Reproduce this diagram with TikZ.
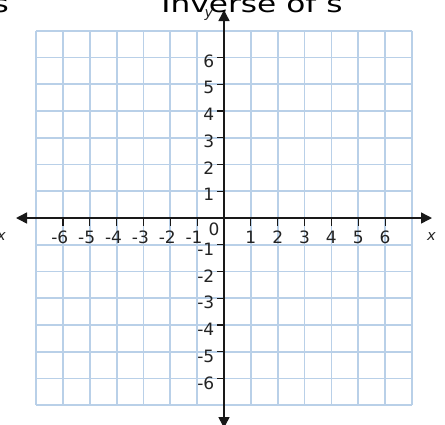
\documentclass[tikz,border=0pt]{standalone}
\usepackage{fontspec}
\setmainfont{DejaVu Sans}
\newfontfamily\titlefont[FakeStretch=1.3]{DejaVu Sans}
\usetikzlibrary{arrows.meta}
\definecolor{gridblue}{RGB}{185,208,232}
\definecolor{axisdark}{RGB}{25,25,25}
\definecolor{labeldark}{RGB}{35,35,35}
\tikzset{
  gridline/.style={draw=gridblue, line width=1.8pt},
  axisline/.style={draw=axisdark, line width=1.5pt, {Triangle[length=11pt,width=11pt]}-{Triangle[length=11pt,width=11pt]}},
  tickmark/.style={draw=axisdark, line width=1.2pt},
  ticklabel/.style={inner sep=0pt, text=labeldark, font=\fontsize{17}{17}\selectfont},
  axislabel/.style={inner sep=0pt, text=labeldark, font=\fontsize{14.5}{14.5}\selectfont\itshape},
  titletext/.style={inner sep=0pt, text=black, font=\titlefont\fontsize{24}{24}\selectfont}
}
\begin{document}
\begin{tikzpicture}[x=1pt,y=-1pt]
\useasboundingbox (0,0) rectangle (445,424);
\fill[white] (0,0) rectangle (445,424);
\def\ox{224}\def\oy{218}\def\dx{26.85}\def\dy{26.75}
% grid
\foreach \i in {-7,...,7} {
  \draw[gridline] ({\ox+\i*\dx},{\oy-7*\dy}) -- ({\ox+\i*\dx},{\oy+7*\dy});
  \draw[gridline] ({\ox-7*\dx},{\oy+\i*\dy}) -- ({\ox+7*\dx},{\oy+\i*\dy});
}
% ticks
\foreach \i in {-6,...,-1,1,2,...,6} {
  \coordinate (xt\i) at ({\ox+\i*\dx},\oy);
  \coordinate (xb\i) at ({\ox+\i*\dx},{\oy+7.5});
  \draw[tickmark] (xt\i) -- (xb\i);
  \coordinate (yt\i) at (\ox,{\oy-\i*\dy});
  \coordinate (yb\i) at ({\ox-7.5},{\oy-\i*\dy});
  \draw[tickmark] (yt\i) -- (yb\i);
}
% axes
\coordinate (xl) at (16,\oy);
\coordinate (xr) at (432,\oy);
\coordinate (ytop) at (\ox,10);
\coordinate (ybot) at (\ox,428);
\draw[axisline] (xl) -- (xr);
\draw[axisline] (ytop) -- (ybot);
% x tick labels
\foreach \i in {1,...,6} {
  \node[ticklabel, anchor=base] (xlp\i) at ({\ox+\i*\dx},243.5) {\i};
  \node[ticklabel, anchor=base] (xln\i) at ({\ox-\i*\dx},243.5) {\llap{-}\i};
}
% y tick labels
\foreach \i in {1,...,6} {
  \node[ticklabel, anchor=base east] (ylp\i) at (214.5,{\oy-\i*\dy+9.6}) {\i};
  \node[ticklabel, anchor=base east] (yln\i) at (214.5,{\oy+\i*\dy+10.6}) {-\i};
}
\node[ticklabel, anchor=base] (zero) at (214,235.8) {0};
% axis labels
\node[axislabel, anchor=base] (xlabR) at (431.5,240) {x};
\node[axislabel, anchor=base] (xlabL) at (1.5,240) {x};
\node[axislabel, anchor=base] (ylab) at (209,17) {y};
% titles
\node[titletext, anchor=base] (title) at (252,12.7) {Inverse of s};
\node[titletext, anchor=base east] (titleL) at (9,12.7) {s};
\end{tikzpicture}
\end{document}
